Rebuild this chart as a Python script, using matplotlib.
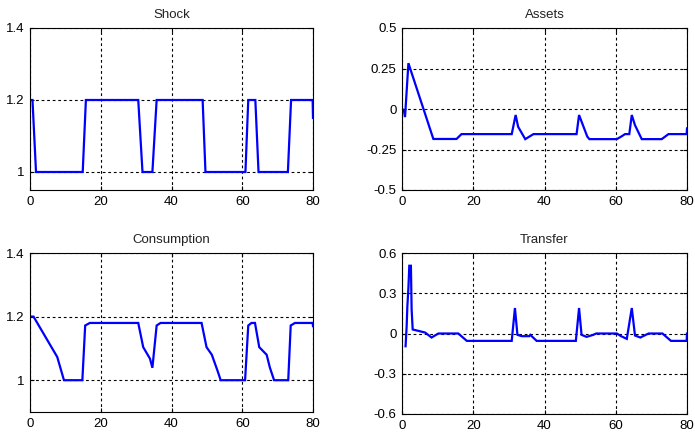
import matplotlib
matplotlib.use("Agg")
import matplotlib.pyplot as plt

plt.rcParams['font.family'] = ['Liberation Sans', 'DejaVu Sans']

# ---- data (breakpoints) ----
shock_t = [0, 0.7, 1.7, 14.9, 15.8, 30.6, 31.8, 34.6, 35.8, 48.8, 49.6,
           60.9, 61.7, 63.7, 64.6, 72.9, 73.8, 79.9, 80]
shock_v = [1.2, 1.2, 1.0, 1.0, 1.2, 1.2, 1.0, 1.0, 1.2, 1.2, 1.0,
           1.0, 1.2, 1.2, 1.0, 1.0, 1.2, 1.2, 1.15]

assets_t = [0, 0.5, 0.85, 1.8, 8.8, 15.3, 16.7, 30.8, 31.9, 32.6, 34.6, 36.9,
            49.0, 49.7, 52.0, 52.6, 60.3, 61.7, 62.6, 63.8, 64.5, 65.4, 67.3,
            72.9, 74.8, 79.9, 80]
assets_v = [0.0, -0.006, -0.05, 0.283, -0.185, -0.185, -0.155, -0.155, -0.037, -0.11, -0.186, -0.155,
            -0.155, -0.037, -0.17, -0.186, -0.186, -0.168, -0.155, -0.155, -0.037, -0.1, -0.186,
            -0.186, -0.155, -0.155, -0.12]

cons_t = [0, 1, 7.7, 9.6, 14.8, 15.6, 16.9, 30.6, 32.0, 33.9, 34.6, 35.8, 36.9,
          48.5, 49.9, 51.4, 53.0, 53.9, 60.8, 61.7, 62.6, 63.6, 64.8, 66.9, 67.8,
          69.0, 73.0, 73.7, 74.9, 79.9, 80]
cons_v = [1.2, 1.2, 1.073, 1.0, 1.0, 1.172, 1.18, 1.18, 1.104, 1.068, 1.039, 1.172, 1.18,
          1.18, 1.104, 1.08, 1.03, 1.0, 1.0, 1.172, 1.18, 1.18, 1.104, 1.08, 1.04,
          1.0, 1.0, 1.172, 1.18, 1.18, 1.17]

trans_t = [1.0, 1.3, 1.5, 1.8, 2.05, 2.5, 2.7, 3.0, 6.5, 8.3, 10.2, 15.8, 18.2,
           30.8, 31.7, 32.4, 33.6, 35.7, 36.0, 37.8, 48.8, 49.7, 50.4, 51.8, 53.7,
           54.5, 60.3, 61.5, 63.1, 64.5, 65.4, 66.9, 69.2, 73.1, 75.5, 79.9, 80]
trans_v = [-0.095, 0.05, 0.2, 0.34, 0.505, 0.505, 0.18, 0.03, 0.007, -0.03, 0.0, 0.0, -0.055,
           -0.055, 0.19, -0.01, -0.02, -0.02, -0.01, -0.055, -0.055, 0.19, -0.01, -0.025, -0.01,
           0.0, 0.0, -0.02, -0.04, 0.19, -0.015, -0.03, 0.0, 0.0, -0.055, -0.055, 0.0]

titles = ["Shock", "Assets", "Consumption", "Transfer"]
xticks = [0, 20, 40, 60, 80]
shock_yticks = [1, 1.2, 1.4]
shock_ylabels = ["1", "1.2", "1.4"]
assets_yticks = [-0.5, -0.25, 0, 0.25, 0.5]
assets_ylabels = ["-0.5", "-0.25", "0", "0.25", "0.5"]
cons_yticks = [1, 1.2, 1.4]
cons_ylabels = ["1", "1.2", "1.4"]
trans_yticks = [-0.6, -0.3, 0, 0.3, 0.6]
trans_ylabels = ["-0.6", "-0.3", "0", "0.3", "0.6"]

W, H = 695, 432
fig = plt.figure(figsize=(W / 100, H / 100), dpi=100)

def box(l, t, r, b):
    return [l / W, 1 - b / H, (r - l) / W, (b - t) / H]

specs = [
    (box(30, 28, 313, 190), shock_t, shock_v, (0.95, 1.4), shock_yticks, shock_ylabels),
    (box(402, 28, 687, 190), assets_t, assets_v, (-0.5, 0.5), assets_yticks, assets_ylabels),
    (box(30, 253, 313, 412), cons_t, cons_v, (0.9, 1.4), cons_yticks, cons_ylabels),
    (box(402, 253, 687, 414), trans_t, trans_v, (-0.6, 0.6), trans_yticks, trans_ylabels),
]

for (pos, t, v, ylim, yt, yl), title in zip(specs, titles):
    ax = fig.add_axes(pos)
    ax.plot(t, v, color="#0000FF", linewidth=1.6, solid_joinstyle="miter")
    ax.set_xlim(0, 80)
    ax.set_ylim(*ylim)
    ax.set_xticks(xticks)
    ax.set_xticklabels([str(x) for x in xticks])
    ax.set_yticks(yt)
    ax.set_yticklabels(yl)
    ax.grid(True, color="black", linestyle=(0, (2.5, 2.5)), linewidth=0.8)
    ax.tick_params(direction="in", length=3, width=0.8, labelsize=9.5,
                   top=True, right=True, colors="black", pad=4)
    for s in ax.spines.values():
        s.set_linewidth(0.8)
    ax.set_title(title, fontsize=9.5, color="#222222", pad=7)

fig.savefig("out.png", dpi=100)
